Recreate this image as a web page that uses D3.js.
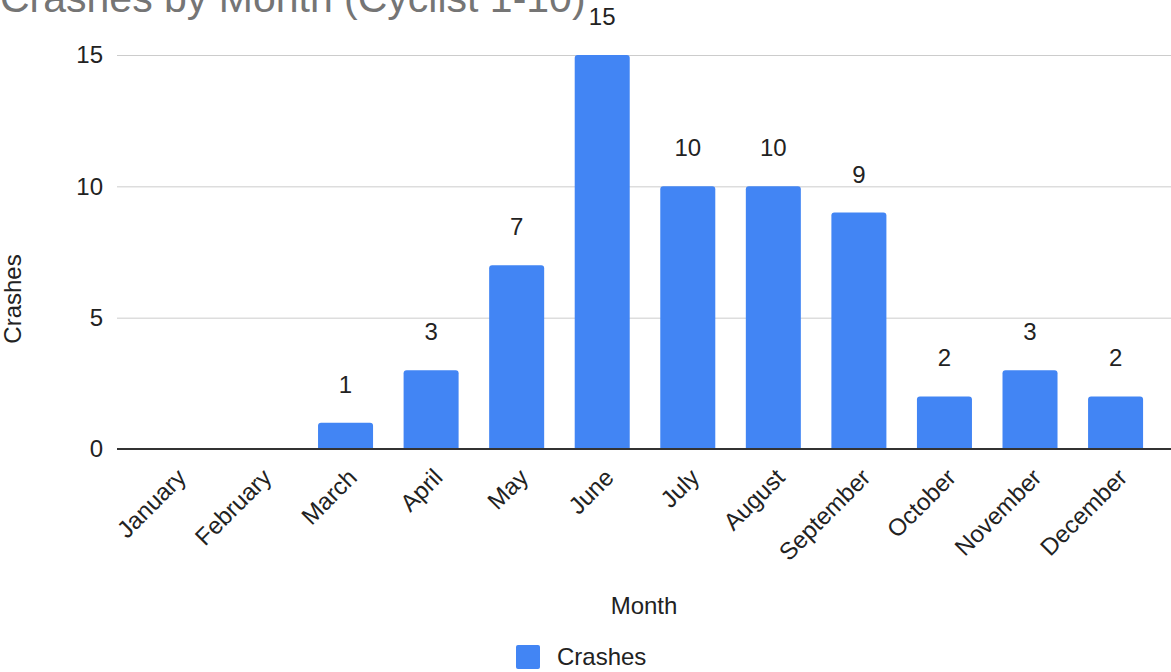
<!DOCTYPE html>
<html>
<head>
<meta charset="utf-8">
<script src="https://cdn.jsdelivr.net/npm/d3@7"></script>
<style>
  html, body { margin: 0; padding: 0; background: #fff; }
  svg { display: block; font-family: Arial, "Liberation Sans", sans-serif; }
</style>
</head>
<body>
<svg id="chart" width="1171" height="672"></svg>
<script>
// Crash counts per month
const months = ["January", "February", "March", "April", "May", "June",
                "July", "August", "September", "October", "November", "December"];
const crashes = [0, 0, 1, 3, 7, 15, 10, 10, 9, 2, 3, 2];
const yTicks = [0, 5, 10, 15];

const W = 1171, H = 672;
const plot = { left: 117, right: 1171, top: 55, bottom: 449 };

const svg = d3.select("#chart");

const x = d3.scaleBand()
  .domain(months)
  .range([plot.left + 1, plot.right + 1])
  .paddingInner(0.357)
  .paddingOuter(0.338);

const y = d3.scaleLinear()
  .domain([0, 15])
  .range([plot.bottom, plot.top]);

// Title (sits partly above the top edge)
svg.append("text")
  .attr("x", 0)
  .attr("y", 12)
  .attr("font-size", 41)
  .attr("fill", "#757575")
  .text("Crashes by Month (Cyclist 1-10)");

// Horizontal gridlines
svg.append("g")
  .selectAll("line")
  .data(yTicks.filter(d => d !== 0))
  .join("line")
  .attr("x1", plot.left)
  .attr("x2", plot.right)
  .attr("y1", d => y(d) + 0.5)
  .attr("y2", d => y(d) + 0.5)
  .attr("stroke", "#cccccc")
  .attr("stroke-width", 1);

// Y axis tick labels
const yAxis = d3.axisLeft(y).tickValues(yTicks).tickSize(0).tickPadding(14);
svg.append("g")
  .attr("transform", `translate(${plot.left},0)`)
  .call(yAxis)
  .call(g => g.select(".domain").remove())
  .call(g => g.selectAll("text")
    .attr("font-size", 24)
    .attr("font-family", "Arial, 'Liberation Sans', sans-serif")
    .attr("fill", "#222"));

// Bars with rounded top corners
const r = 3;
function barPath(d, i) {
  const x0 = x(months[i]), w = x.bandwidth();
  const y0 = y(d), yb = y(0);
  if (d <= 0) return "";
  return `M${x0},${yb}V${y0 + r}Q${x0},${y0} ${x0 + r},${y0}` +
         `H${x0 + w - r}Q${x0 + w},${y0} ${x0 + w},${y0 + r}V${yb}Z`;
}
svg.append("g")
  .selectAll("path")
  .data(crashes)
  .join("path")
  .attr("d", barPath)
  .attr("fill", "#4285f4");

// Value labels above bars
svg.append("g")
  .selectAll("text")
  .data(crashes.map((v, i) => ({ v, m: months[i] })).filter(d => d.v > 0))
  .join("text")
  .attr("x", d => x(d.m) + x.bandwidth() / 2)
  .attr("y", d => y(d.v) - 30)
  .attr("text-anchor", "middle")
  .attr("font-size", 24)
  .attr("fill", "#222")
  .text(d => d.v);

// Baseline at zero
svg.append("line")
  .attr("x1", plot.left)
  .attr("x2", plot.right)
  .attr("y1", y(0))
  .attr("y2", y(0))
  .attr("stroke", "#333")
  .attr("stroke-width", 2);

// X axis labels, rotated
const xAxis = d3.axisBottom(x).tickSize(0).tickPadding(0);
svg.append("g")
  .attr("transform", `translate(0,${plot.bottom})`)
  .call(xAxis)
  .call(g => g.select(".domain").remove())
  .call(g => g.selectAll("text")
    .attr("font-size", 24)
    .attr("font-family", "Arial, 'Liberation Sans', sans-serif")
    .attr("fill", "#222")
    .attr("text-anchor", "end")
    .attr("dy", "0")
    .attr("transform", "translate(13,30) rotate(-45)"));

// Axis titles
svg.append("text")
  .attr("x", (plot.left + plot.right) / 2)
  .attr("y", 614)
  .attr("text-anchor", "middle")
  .attr("font-size", 24)
  .attr("fill", "#222")
  .text("Month");

svg.append("text")
  .attr("transform", `translate(21,299) rotate(-90)`)
  .attr("text-anchor", "middle")
  .attr("font-size", 24)
  .attr("fill", "#222")
  .text("Crashes");

// Legend
const legend = svg.append("g").attr("transform", "translate(516,645)");
legend.append("rect")
  .attr("width", 24)
  .attr("height", 24)
  .attr("rx", 2)
  .attr("fill", "#4285f4");
legend.append("text")
  .attr("x", 41)
  .attr("y", 20)
  .attr("font-size", 24)
  .attr("fill", "#222")
  .text("Crashes");
</script>
</body>
</html>
